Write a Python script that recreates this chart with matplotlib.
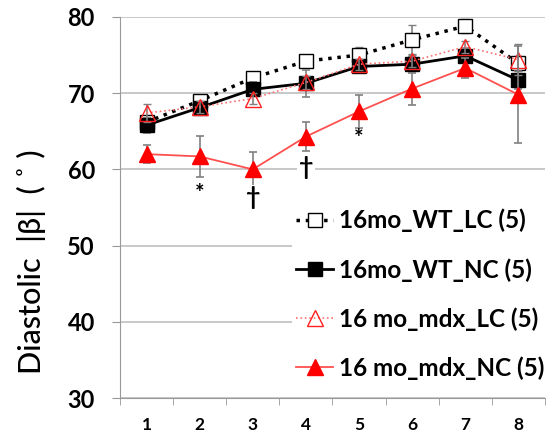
import numpy as np
import matplotlib.pyplot as plt

plt.rcParams['font.family'] = ['Lato', 'DejaVu Sans']

days = [1, 2, 3, 4, 5, 6, 7, 8]

wt_lc = [66.2, 69.0, 72.0, 74.2, 75.0, 77.0, 78.8, 73.9]
wt_lc_err = [0.8, 0.6, 0.8, 0.7, 1.0, 1.9, 0.9, 1.0]
wt_nc = [65.8, 68.1, 70.5, 71.3, 73.5, 73.8, 74.9, 71.7]
wt_nc_err = [1.0, 0.8, 0.9, 1.8, 0.9, 1.0, 1.0, 1.2]
mdx_lc = [67.4, 68.2, 69.3, 71.4, 73.8, 74.2, 76.1, 74.4]
mdx_lc_err = [1.2, 0.8, 0.7, 0.8, 0.7, 0.8, 0.8, 2.0]
mdx_nc = [62.0, 61.7, 60.0, 64.3, 67.6, 70.6, 73.3, 69.8]
mdx_nc_err = [1.2, 2.7, 2.3, 1.9, 2.2, 2.1, 1.3, 6.4]

marks = [(2, 56.8, '*'), (3, 56.3, '†'), (4, 60.3, '†'), (5, 64.1, '*')]

fig = plt.figure(figsize=(5.57, 4.37), dpi=100)
ax = fig.add_axes([0.2154, 0.0892, 0.763, 0.872])

x = np.array(days)
ekw = dict(ecolor='#808080', elinewidth=1.2, capsize=3, capthick=1.2)

e1 = ax.errorbar(x, wt_lc, yerr=wt_lc_err, color='black', ls=':', lw=2.5,
                 marker='s', ms=10, mfc='white', mec='black', mew=1,
                 zorder=3, **ekw)
e2 = ax.errorbar(x, wt_nc, yerr=wt_nc_err, color='black', ls='-', lw=2,
                 marker='s', ms=10, mfc='black', mec='black',
                 zorder=4, **ekw)
e3 = ax.errorbar(x, mdx_lc, yerr=mdx_lc_err, color='#ff7070', ls=':', lw=1.2,
                 marker='^', ms=11, mfc='none', mec='#ff2020', mew=1,
                 zorder=5, **ekw)
e4 = ax.errorbar(x, mdx_nc, yerr=mdx_nc_err, color='#ff5050', ls='-', lw=1.3,
                 marker='^', ms=11, mfc='#ff0000', mec='#ff0000',
                 zorder=6, **ekw)

for xi, yi, s in marks:
    if s == '*':
        ax.text(xi, yi, s, ha='center', va='center', fontsize=16,
                fontweight='bold', zorder=7)
    else:
        ax.text(xi, yi, s, ha='center', va='center', fontsize=18,
                fontweight='bold', zorder=7,
                bbox=dict(facecolor='white', edgecolor='none', pad=1))

ax.set_xlim(0.5, 8.5)
ax.set_ylim(30, 80)
ax.set_yticks([30, 40, 50, 60, 70, 80])
ax.set_xticks(days)
ax.set_xticks(np.arange(0.5, 9, 1), minor=True)
ax.tick_params(axis='x', which='major', length=0, labelsize=12.5, pad=14)
ax.tick_params(axis='x', which='minor', length=5, color='#999999', direction='out')
ax.tick_params(axis='y', length=6, color='#999999', labelsize=17, pad=12)
for lbl in ax.get_xticklabels() + ax.get_yticklabels():
    lbl.set_fontweight('bold')

ax.grid(axis='y', color='#bfbfbf', lw=1.2)
ax.set_axisbelow(True)
for side in ['top', 'right']:
    ax.spines[side].set_visible(False)
for side in ['left', 'bottom']:
    ax.spines[side].set_color('#999999')

fig.text(31 / 557, 1 - 262 / 437, 'Diastolic  |β|  ( ˚ )', rotation=90,
         ha='center', va='center', fontsize=22, fontweight='medium')

handles = [e1[0], e2[0], e3[0], e4[0]]
labels = ['16mo_WT_LC (5)', '16mo_WT_NC (5)', '16 mo_mdx_LC (5)', '16 mo_mdx_NC (5)']
leg = ax.legend(handles, labels, loc='lower right', bbox_to_anchor=(1.01, 0.035),
                frameon=True, prop={'size': 17.5, 'weight': 'bold'},
                handlelength=1.5, labelspacing=1.05, borderpad=0.2,
                handletextpad=0.25, borderaxespad=0.0)
leg.get_frame().set_facecolor('white')
leg.get_frame().set_edgecolor('none')
leg.get_frame().set_alpha(1)

fig.savefig('out.png', dpi=100)
